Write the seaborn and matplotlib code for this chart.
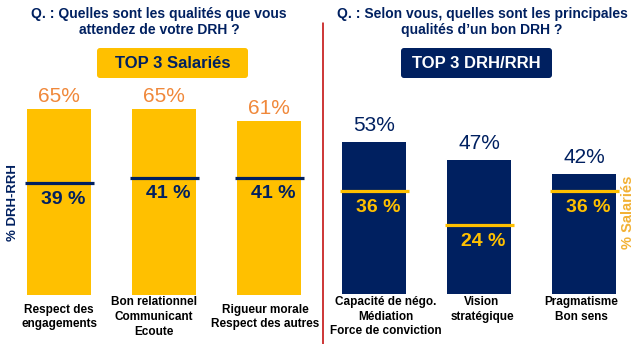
import matplotlib
matplotlib.use("Agg")
import matplotlib.pyplot as plt
import seaborn as sns
from matplotlib.patches import FancyBboxPatch

sns.set_theme(style="white")
plt.rcParams['font.family'] = ['Liberation Sans', 'DejaVu Sans']

# ---- data ----
cats_left = ["Respect des\nengagements", "Bon relationnel\nCommunicant\nEcoute",
             "Rigueur morale\nRespect des autres"]
salaries_left = [65, 65, 61]
drh_left = [39, 41, 41]

cats_right = ["Capacité de négo.\nMédiation\nForce de conviction", "Vision\nstratégique",
              "Pragmatisme\nBon sens"]
drh_right = [53, 47, 42]
salaries_right = [36, 24, 36]

title_left = "Q. : Quelles sont les qualités que vous\nattendez de votre DRH ?"
title_right = "Q. : Selon vous, quelles sont les principales\nqualités d\u2019un bon DRH ?"
box_left = "TOP 3 Salariés"
box_right = "TOP 3 DRH/RRH"

# ---- colours ----
YELLOW = "#FFC000"
NAVY = "#002060"
ORANGE = "#F0883A"
LABEL_YEL = "#F2B134"
RED = "#C00000"

W, H = 636, 344
fig = plt.figure(figsize=(W / 100, H / 100), dpi=100)
PT = 0.72  # points per pixel at 100 dpi


def px_axes(x0, x1, ybottom, height):
    return fig.add_axes([x0 / W, (H - ybottom) / H, (x1 - x0) / W, height / H])


def panel(ax, cats, bars, lines, bar_col, line_col, top_col, in_col, top_gap,
          lab_shift, lab_va, lab_dy):
    sns.barplot(x=list(range(len(cats))), y=bars, ax=ax, color=bar_col,
                saturation=1, width=64 / 105, linewidth=0)
    ax.hlines(lines, [i - 0.32 for i in range(len(lines))],
              [i + 0.33 for i in range(len(lines))], colors=line_col, lw=2.3, zorder=3)
    ax.set_xlim(-0.5, 2.5)
    ax.set_ylim(0, 100)
    ax.axis("off")
    for i, (b, l) in enumerate(zip(bars, lines)):
        ax.annotate(f"{b}%", (i, b), xytext=(0, top_gap * PT), textcoords="offset points",
                    ha="center", va="bottom", fontsize=15, color=top_col)
        ax.annotate(f"{l} %", (i, l), xytext=(4 * PT, -16 * PT), textcoords="offset points",
                    ha="center", va="center", fontsize=14, fontweight="bold", color=in_col)
    for i, c in enumerate(cats):
        ax.annotate(c, (i, 0), xytext=(lab_shift[i] * PT, lab_dy * PT), textcoords="offset points",
                    ha="center", va=lab_va, fontsize=8.5, fontweight="bold", color="black",
                    linespacing=1.3, annotation_clip=False)


axL = px_axes(6.5, 321.5, 295, 286)
panel(axL, cats_left, salaries_left, drh_left, YELLOW, NAVY, ORANGE, NAVY, 3,
      [0, -10, -4], "center", -22)

axR = px_axes(321.5, 636.5, 294, 286)
panel(axR, cats_right, drh_right, salaries_right, NAVY, YELLOW, NAVY, YELLOW, 7,
      [12, 3, -3], "top", -2)

# overlay in pixel coordinates
ov = fig.add_axes([0, 0, 1, 1], zorder=-1)
ov.set_xlim(0, W)
ov.set_ylim(H, 0)
ov.axis("off")

ov.plot([323, 323], [23, 344], color=RED, lw=1.1)

ov.text(159, 22, title_left, ha="center", va="center", fontsize=10, fontweight="bold",
        color=NAVY, linespacing=1.25)
ov.text(482, 22, title_right, ha="center", va="center", fontsize=10, fontweight="bold",
        color=NAVY, linespacing=1.25)

for (x0, x1, col, txt, tcol) in [(97, 248, YELLOW, box_left, NAVY),
                                 (401, 552, NAVY, box_right, "white")]:
    ov.add_patch(FancyBboxPatch((x0, 48), x1 - x0, 30,
                                boxstyle="round,pad=0,rounding_size=3",
                                fc=col, ec="none"))
    ov.text((x0 + x1) / 2, 63.5, txt, ha="center", va="center", fontsize=12,
            fontweight="bold", color=tcol)

ov.text(13, 203, "% DRH-RRH", rotation=90, ha="center", va="center", fontsize=9.5,
        fontweight="bold", color=NAVY)
ov.text(628, 212, "% Salariés", rotation=90, ha="center", va="center", fontsize=10.5,
        fontweight="bold", color=LABEL_YEL)

fig.savefig("out.png", dpi=100)
